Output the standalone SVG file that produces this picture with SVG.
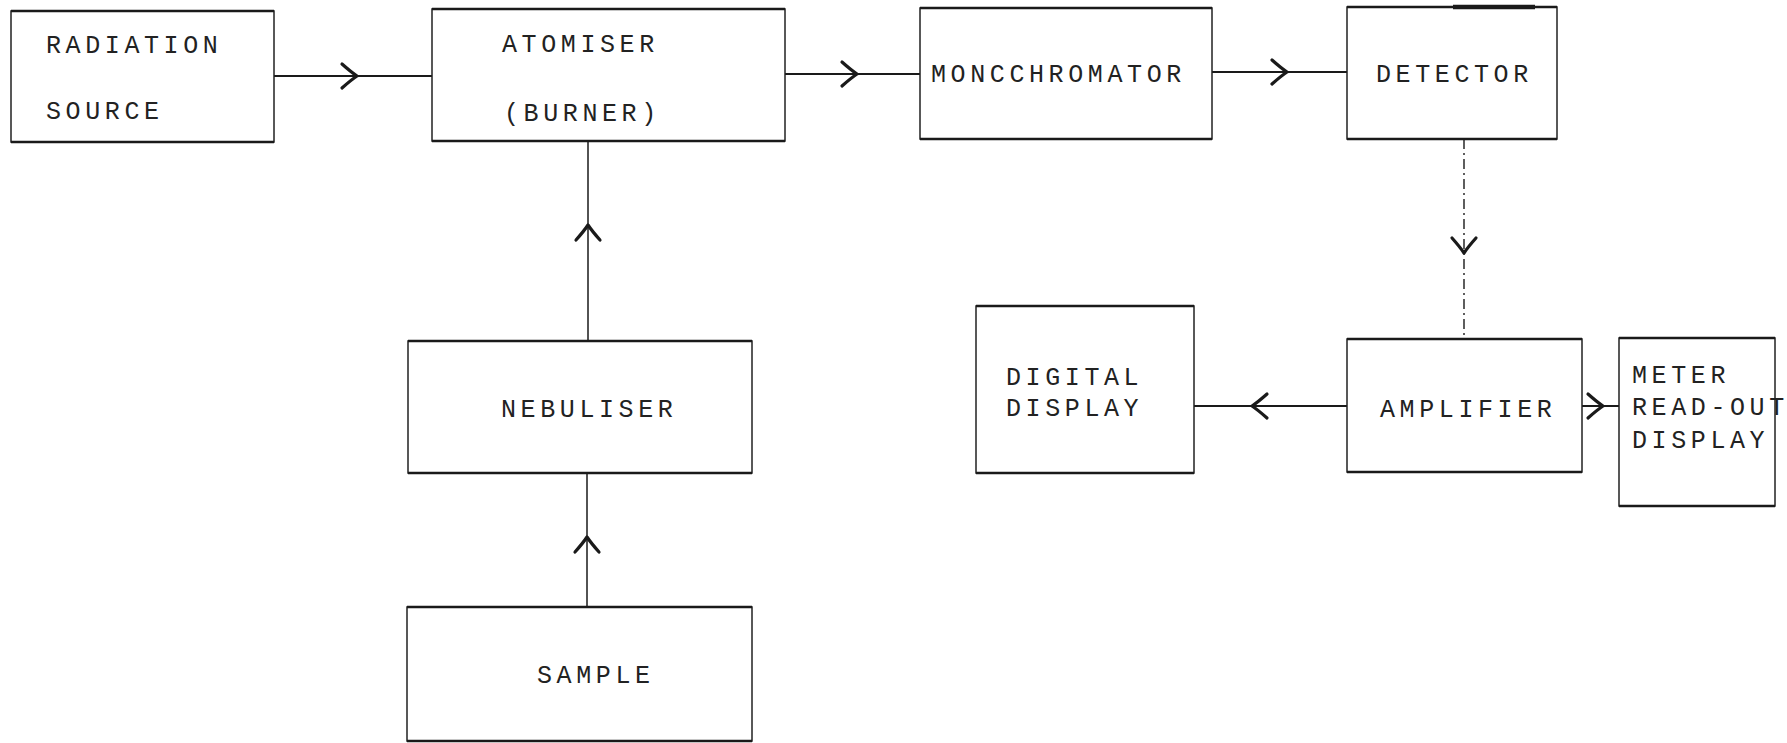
<svg xmlns="http://www.w3.org/2000/svg" width="1787" height="743" viewBox="0 0 1787 743">
  <style>
    .box { fill: #ffffff; stroke: #222; stroke-width: 1.5; }
    .edge { fill: none; stroke: #1a1a1a; stroke-width: 2.6; }
    .lbl { font-family: "Liberation Mono", "DejaVu Sans Mono", monospace; font-size: 25px; letter-spacing: 4.6px; fill: #222; }
    .wire { fill: none; stroke: #1a1a1a; stroke-width: 2; marker-mid: url(#chev); }
    .wire.thin { stroke-width: 1.5; }
    .wire.dashdot { stroke-width: 1.4; stroke-dasharray: 10 4 2 4; }
  </style>
  <defs>
    <!-- open hand-drawn chevron placed at the middle vertex of each connector -->
    <marker id="chev" markerUnits="userSpaceOnUse" markerWidth="40" markerHeight="40" viewBox="-20 -20 40 40" refX="0" refY="0" orient="auto" overflow="visible">
      <path d="M-15,-12 Q-6,-4 0,0 Q-6,4 -15,12" fill="none" stroke="#1a1a1a" stroke-width="3.2" stroke-linecap="round" stroke-linejoin="round"/>
    </marker>
  </defs>

  <rect x="0" y="0" width="1787" height="743" fill="#ffffff"/>

  <!-- connectors -->
  <g id="connectors">
    <path class="wire" d="M274,76 H357 H432"/>
    <path class="wire" d="M785,74 H857 H920"/>
    <path class="wire" d="M1212,72 H1287 H1347"/>
    <path class="wire thin" d="M588,341 V225 V141"/>
    <path class="wire thin" d="M587,607 V537 V473"/>
    <path class="wire dashdot" d="M1464,139 V253 V339"/>
    <path class="wire" d="M1347,406 H1252 H1194"/>
    <path class="wire" d="M1582,406 H1603 H1619"/>
  </g>

  <g id="radiation-source">
    <rect class="box" x="11" y="11" width="263" height="131"/>
    <path class="edge" d="M11,11 H274 M11,142 H274"/>
    <text class="lbl" x="46" y="53">RADIATION</text>
    <text class="lbl" x="46" y="119">SOURCE</text>
  </g>

  <g id="atomiser">
    <rect class="box" x="432" y="9" width="353" height="132"/>
    <path class="edge" d="M432,9 H785 M432,141 H785"/>
    <text class="lbl" x="502" y="52">ATOMISER</text>
    <text class="lbl" x="504" y="121">(BURNER)</text>
  </g>

  <g id="monochromator">
    <rect class="box" x="920" y="8" width="292" height="131"/>
    <path class="edge" d="M920,8 H1212 M920,139 H1212"/>
    <text class="lbl" x="931" y="82">MONCCHROMATOR</text>
  </g>

  <g id="detector">
    <rect class="box" x="1347" y="7" width="210" height="132"/>
    <path class="edge" d="M1347,7 H1557 M1347,139 H1557"/>
    <path d="M1453,7 H1535" fill="none" stroke="#1a1a1a" stroke-width="4.5"/>
    <text class="lbl" x="1376" y="82">DETECTOR</text>
  </g>

  <g id="nebuliser">
    <rect class="box" x="408" y="341" width="344" height="132"/>
    <path class="edge" d="M408,341 H752 M408,473 H752"/>
    <text class="lbl" x="501" y="417">NEBULISER</text>
  </g>

  <g id="sample">
    <rect class="box" x="407" y="607" width="345" height="134"/>
    <path class="edge" d="M407,607 H752 M407,741 H752"/>
    <text class="lbl" x="537" y="683">SAMPLE</text>
  </g>

  <g id="digital-display">
    <rect class="box" x="976" y="306" width="218" height="167"/>
    <path class="edge" d="M976,306 H1194 M976,473 H1194"/>
    <text class="lbl" x="1006" y="385">DIGITAL</text>
    <text class="lbl" x="1006" y="416">DISPLAY</text>
  </g>

  <g id="amplifier">
    <rect class="box" x="1347" y="339" width="235" height="133"/>
    <path class="edge" d="M1347,339 H1582 M1347,472 H1582"/>
    <text class="lbl" x="1380" y="417">AMPLIFIER</text>
  </g>

  <g id="meter-readout">
    <rect class="box" x="1619" y="338" width="156" height="168"/>
    <path class="edge" d="M1619,338 H1775 M1619,506 H1775"/>
    <text class="lbl" x="1632" y="383">METER</text>
    <text class="lbl" x="1632" y="415">READ-OUT</text>
    <text class="lbl" x="1632" y="448">DISPLAY</text>
  </g>
</svg>
